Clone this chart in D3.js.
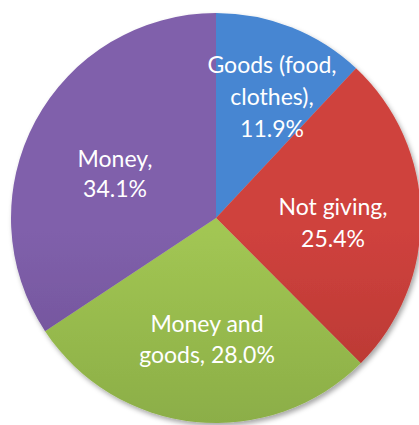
<!DOCTYPE html>
<html>
<head>
<meta charset="utf-8">
<script src="https://cdn.jsdelivr.net/npm/d3@7"></script>
<style>
  html, body { margin: 0; padding: 0; background: #fff; }
  svg { display: block; }
</style>
</head>
<body>
<svg id="chart" width="419" height="425"></svg>
<script>
// Forms of giving, share of respondents (%)
const categories = ["Goods (food, clothes)", "Not giving", "Money and goods", "Money"];
const values = [11.9, 25.4, 28.0, 34.1];
const labelLines = [
  ["Goods (food,", "clothes),", "11.9%"],
  ["Not giving,", "25.4%"],
  ["Money and", "goods, 28.0%"],
  ["Money,", "34.1%"]
];
const topColors = ["#4686d2", "#cf423d", "#a2c653", "#8060ab"];
const bottomColors = ["#2d5c98", "#962825", "#72933a", "#573c7b"];

const width = 419, height = 425;
const cx = 216, cy = 218, radius = 205;

// Label block centres relative to the pie centre, and line spacing
const labelOffsets = [[56, -113], [117, 13], [-9, 129], [-101, -36]];
const lineHeights = [32, 32, 31, 30];

const svg = d3.select("#chart");
const defs = svg.append("defs");

// Soft shadow under the pie
const shadow = defs.append("filter").attr("id", "pieShadow")
  .attr("x", "-10%").attr("y", "-10%").attr("width", "120%").attr("height", "120%");
shadow.append("feDropShadow")
  .attr("dx", 2).attr("dy", 3).attr("stdDeviation", 2.5)
  .attr("flood-color", "#000").attr("flood-opacity", 0.35);

// Vertical light-to-dark gradient for each slice, spanning the whole pie
categories.forEach((c, i) => {
  const g = defs.append("linearGradient").attr("id", "grad" + i)
    .attr("gradientUnits", "userSpaceOnUse")
    .attr("x1", 0).attr("x2", 0)
    .attr("y1", cy - radius).attr("y2", cy + radius);
  g.append("stop").attr("offset", "0%").attr("stop-color", topColors[i]);
  g.append("stop").attr("offset", "100%").attr("stop-color", bottomColors[i]);
});

const data = categories.map((c, i) => ({ name: c, value: values[i], lines: labelLines[i], idx: i }));

const pie = d3.pie().value(d => d.value).sort(null);
const arc = d3.arc().innerRadius(0).outerRadius(radius);
const arcs = pie(data);

const g = svg.append("g").attr("transform", `translate(${cx},${cy})`);

g.append("g").attr("filter", "url(#pieShadow)")
  .selectAll("path").data(arcs).join("path")
  .attr("d", arc)
  .attr("fill", d => `url(#grad${d.data.idx})`);

const labels = g.append("g")
  .attr("font-family", "Lato, 'Open Sans', sans-serif")
  .attr("font-size", 23)
  .attr("fill", "#fff")
  .attr("text-anchor", "middle");

arcs.forEach((a, i) => {
  const [x, y] = labelOffsets[i];
  const n = a.data.lines.length;
  const t = labels.append("text")
    .attr("transform", `translate(${x},${y})`);
  a.data.lines.forEach((line, j) => {
    t.append("tspan")
      .attr("x", 0)
      .attr("y", (j - (n - 1) / 2) * lineHeights[i])
      .text(line);
  });
});
</script>
</body>
</html>
